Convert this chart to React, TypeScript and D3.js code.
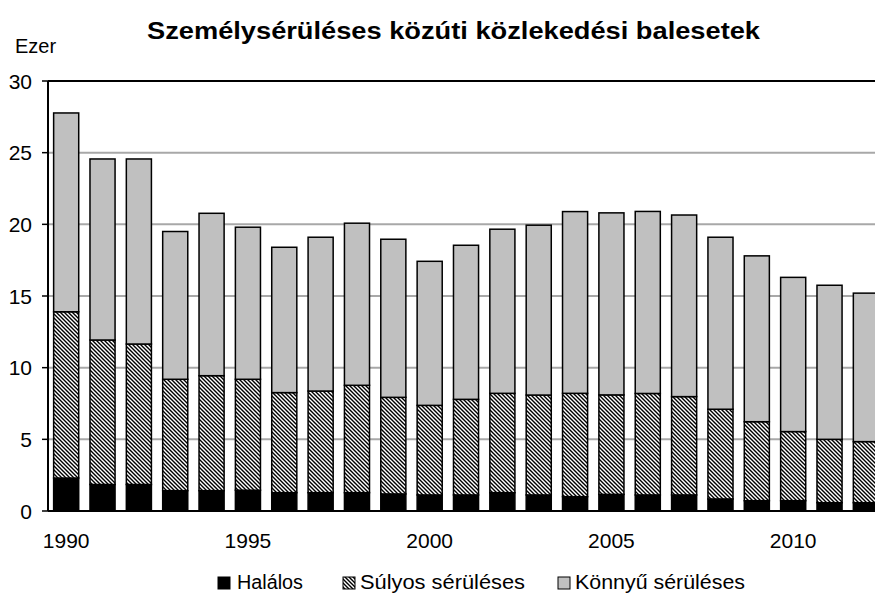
import React from "react";
import * as d3 from "d3";

const years = d3.range(1990, 2013).map(String);
const halalos = [2.3, 1.85, 1.85, 1.42, 1.42, 1.45, 1.28, 1.28, 1.28, 1.19, 1.12, 1.12, 1.28, 1.12, 1.0, 1.16, 1.12, 1.12, 0.84, 0.72, 0.72, 0.58, 0.58];
const sulyosTop = [13.9, 11.93, 11.65, 9.19, 9.44, 9.19, 8.26, 8.37, 8.77, 7.93, 7.37, 7.79, 8.21, 8.09, 8.21, 8.1, 8.2, 7.98, 7.1, 6.23, 5.54, 5.0, 4.84];
const osszes = [27.77, 24.56, 24.56, 19.5, 20.77, 19.8, 18.4, 19.1, 20.08, 18.96, 17.42, 18.54, 19.66, 19.94, 20.89, 20.8, 20.9, 20.65, 19.1, 17.8, 16.3, 15.75, 15.2];
const yTicks = [0, 5, 10, 15, 20, 25, 30];
const xLabels = ["1990", "1995", "2000", "2005", "2010"];
const seriesNames = ["Halálos", "Súlyos sérüléses", "Könnyű sérüléses"];

const W = 875, H = 593;
const left = 48, top = 81, bottom = 511;

export default function App() {
  const x = d3.scaleBand<string>().domain(years).range([left, left + 23 * 36.35]).paddingInner(0.31).paddingOuter(0.155);
  const y = d3.scaleLinear().domain([0, 30]).range([bottom, top]);
  const font = "Arial, 'Liberation Sans', sans-serif";
  const fills = ["#000000", "url(#hatch)", "#c0c0c0"];
  const segs = years.map((yr, i) => [
    [0, halalos[i]],
    [halalos[i], sulyosTop[i]],
    [sulyosTop[i], osszes[i]],
  ]);
  const legend = [
    { sx: 218, tx: 237, tl: 66 },
    { sx: 343, tx: 360, tl: 165 },
    { sx: 558, tx: 575, tl: 170 },
  ];
  return (
    <svg width={W} height={H} style={{ position: "absolute", left: 0, top: 0 }} fontFamily={font}>
      <defs>
        <pattern id="hatch" patternUnits="userSpaceOnUse" width={4} height={4}>
          <rect width={4} height={4} fill="#ffffff" />
          <path d="M-1,-1 L5,5 M-1,3 L1,5 M3,-1 L5,1" stroke="#000" strokeWidth={1.4} />
        </pattern>
      </defs>
      <rect width={W} height={H} fill="#fff" />
      <text x={147} y={39} fontSize={23} fontWeight="bold" textLength={613} lengthAdjust="spacingAndGlyphs">Személysérüléses közúti közlekedési balesetek</text>
      <text x={15} y={53} fontSize={20}>Ezer</text>
      {yTicks.filter(t => t > 0 && t < 30).map(t => (
        <line key={t} x1={left} x2={W} y1={y(t)} y2={y(t)} stroke="#a8a8a8" strokeWidth={2} />
      ))}
      <line x1={left} x2={W} y1={top} y2={top} stroke="#000" strokeWidth={2} />
      {yTicks.map(t => (
        <g key={t}>
          <line x1={left - 6} x2={left} y1={y(t)} y2={y(t)} stroke="#000" strokeWidth={1.5} />
          <text x={32} y={y(t) + 7.5} textAnchor="end" fontSize={21}>{t}</text>
        </g>
      ))}
      {years.map((yr, i) => (
        <g key={yr}>
          {segs[i].map((s, j) => (
            <rect key={j} x={x(yr)} y={y(s[1])} width={x.bandwidth()} height={y(s[0]) - y(s[1])}
              fill={fills[j]} stroke="#000" strokeWidth={1.5} />
          ))}
        </g>
      ))}
      <line x1={left} x2={left} y1={top} y2={bottom} stroke="#000" strokeWidth={2} />
      <line x1={left} x2={W} y1={bottom} y2={bottom} stroke="#000" strokeWidth={2} />
      {xLabels.map(l => (
        <text key={l} x={(x(l) as number) + x.bandwidth() / 2} y={548} textAnchor="middle" fontSize={21}>{l}</text>
      ))}
      <g fontSize={20}>
        {seriesNames.map((n, i) => (
          <g key={n}>
            <rect x={legend[i].sx} y={577} width={12} height={12} fill={fills[i]} stroke="#000" strokeWidth={1} />
            <text x={legend[i].tx} y={589} textLength={legend[i].tl} lengthAdjust="spacingAndGlyphs">{n}</text>
          </g>
        ))}
      </g>
    </svg>
  );
}
